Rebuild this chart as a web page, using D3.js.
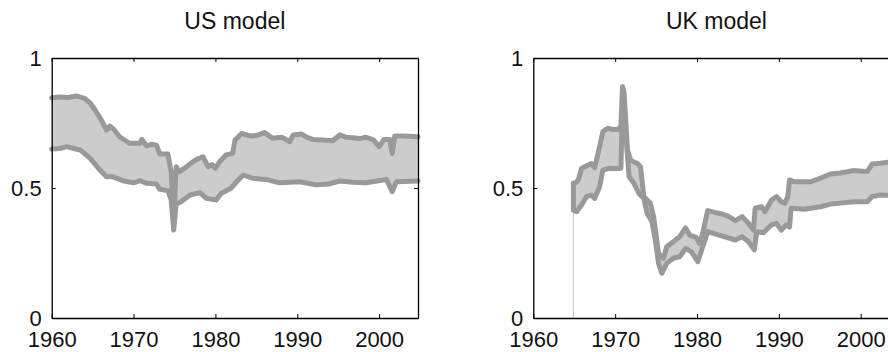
<!DOCTYPE html>
<html>
<head>
<meta charset="utf-8">
<script src="https://cdn.jsdelivr.net/npm/d3@7"></script>
<style>
  body { margin: 0; background: #fff; overflow: hidden; }
  svg { display: block; }
  text { font-family: "Liberation Sans", Arial, sans-serif; fill: #111; }
</style>
</head>
<body>
<svg id="chart" width="888" height="352"></svg>
<script>
// data: [year, value]
var usUpper = [[1960,0.847],[1961,0.85],[1962,0.848],[1963,0.854],[1964,0.845],[1964.7,0.827],[1965.3,0.80],[1965.9,0.77],
  [1966.7,0.723],[1967.1,0.738],[1967.6,0.725],[1968.3,0.697],[1969.5,0.672],[1970.3,0.672],[1970.8,0.672],[1971,0.687],
  [1971.6,0.662],[1972.2,0.668],[1972.8,0.665],[1973.2,0.631],[1974.2,0.631],[1974.6,0.56],[1974.9,0.36],[1975.2,0.582],
  [1975.6,0.563],[1976.5,0.582],[1977.2,0.60],[1977.7,0.61],[1978.5,0.62],[1979.1,0.582],[1979.6,0.59],[1980,0.576],
  [1980.5,0.601],[1981.3,0.627],[1982.1,0.633],[1982.4,0.685],[1983.2,0.71],[1984,0.702],[1984.6,0.70],[1985.3,0.705],
  [1986,0.713],[1987,0.691],[1988.1,0.695],[1989.1,0.678],[1989.5,0.704],[1990.5,0.708],[1991.2,0.695],[1991.9,0.687],
  [1993,0.685],[1994.3,0.682],[1995.2,0.704],[1996,0.695],[1996.8,0.693],[1997.6,0.69],[1998.4,0.695],[1999.3,0.685],
  [2000,0.659],[2000.6,0.687],[2001.3,0.687],[2001.6,0.633],[2001.9,0.70],[2003,0.70],[2004.75,0.697]];
var usLower = [[1960,0.65],[1961,0.652],[1961.8,0.659],[1962.7,0.652],[1963.5,0.646],[1964.7,0.614],[1965.9,0.569],
  [1966.7,0.543],[1967.5,0.543],[1968.7,0.528],[1970,0.52],[1970.8,0.528],[1971.6,0.518],[1972.8,0.515],[1973.2,0.495],
  [1974.2,0.49],[1974.6,0.454],[1974.9,0.338],[1975.2,0.438],[1975.8,0.447],[1976.9,0.473],[1978.1,0.482],[1978.9,0.46],
  [1980.1,0.454],[1980.7,0.479],[1981.9,0.499],[1982.6,0.524],[1983.4,0.55],[1984.6,0.537],[1986.2,0.533],[1987.8,0.52],
  [1990.3,0.524],[1992.3,0.512],[1993.8,0.515],[1995.2,0.527],[1996.8,0.522],[1998.4,0.52],[2000.9,0.533],[2001.6,0.486],
  [2002.1,0.524],[2004.75,0.527]];
var ukUpper = [[1964.9,0.518],[1965.2,0.52],[1965.5,0.531],[1965.9,0.576],[1966.7,0.588],[1967.1,0.594],[1967.5,0.578],
  [1968.1,0.659],[1968.5,0.717],[1969.1,0.73],[1969.7,0.725],[1970.3,0.725],[1970.7,0.736],[1970.9,0.89],[1971.1,0.864],
  [1971.5,0.646],[1971.9,0.608],[1972.3,0.60],[1972.7,0.595],[1973.1,0.582],[1973.5,0.467],[1974.3,0.441],[1974.7,0.39],
  [1975.3,0.249],[1975.9,0.23],[1976.3,0.274],[1977.1,0.293],[1977.9,0.313],[1978.6,0.347],[1979.1,0.319],[1979.9,0.31],
  [1980.3,0.287],[1980.7,0.326],[1981.3,0.413],[1982.3,0.405],[1983.1,0.40],[1983.9,0.39],[1984.7,0.374],[1985.5,0.39],
  [1986.3,0.364],[1986.9,0.338],[1987.1,0.422],[1987.9,0.428],[1988.3,0.409],[1989.1,0.454],[1989.7,0.467],[1990.3,0.447],
  [1990.7,0.441],[1991.1,0.467],[1991.3,0.531],[1991.9,0.524],[1993.9,0.524],[1995.5,0.543],[1996.3,0.554],[1997.5,0.558],
  [1999.2,0.567],[2000.8,0.563],[2001.4,0.592],[2002.4,0.595],[2003.5,0.60],[2004.75,0.602]];
var ukLower = [[1964.9,0.415],[1965.3,0.409],[1965.9,0.435],[1966.5,0.467],[1967.1,0.473],[1967.5,0.46],[1968.1,0.505],
  [1968.5,0.569],[1969.3,0.576],[1970.1,0.575],[1970.7,0.576],[1970.95,0.87],[1971.3,0.71],[1971.7,0.543],[1972.3,0.518],
  [1972.9,0.479],[1973.5,0.46],[1973.9,0.403],[1974.5,0.37],[1974.9,0.30],[1975.3,0.21],[1975.7,0.172],[1976.3,0.21],
  [1977.1,0.23],[1977.9,0.236],[1978.6,0.268],[1979.3,0.255],[1980.1,0.217],[1980.7,0.274],[1981.3,0.332],[1982.7,0.319],
  [1984.7,0.30],[1985.5,0.313],[1986.3,0.293],[1987.0,0.262],[1987.3,0.332],[1988.1,0.328],[1989.1,0.358],[1989.7,0.364],
  [1990.3,0.338],[1990.9,0.358],[1991.3,0.35],[1991.5,0.422],[1993.1,0.418],[1995.1,0.428],[1996.3,0.438],[1999.2,0.447],
  [2000.8,0.447],[2001.4,0.467],[2002.4,0.473],[2004.75,0.47]];

var titles = ["US model", "UK model"];
var xTicks = [1960, 1970, 1980, 1990, 2000];
var yTicks = [0, 0.5, 1];
var xDomain = [1960, 2004.75];

var panels = [
  {title: titles[0], upper: usUpper, lower: usLower, left: 51.7, startLine: false},
  {title: titles[1], upper: ukUpper, lower: ukLower, left: 533.3, startLine: true}
];

var svg = d3.select("#chart");
var plotW = 366.3, plotTop = 58, plotH = 260;

panels.forEach(function (p) {
  var x = d3.scaleLinear().domain(xDomain).range([p.left, p.left + plotW]);
  var y = d3.scaleLinear().domain([0, 1]).range([plotTop + plotH, plotTop]);
  var g = svg.append("g");

  var line = d3.line().x(function (d) { return x(d[0]); }).y(function (d) { return y(d[1]); });

  // band fill: upper forward then lower backwards
  var poly = p.upper.concat(p.lower.slice().reverse());
  g.append("path").attr("d", line(poly) + "Z")
    .attr("fill", "#cccccc").attr("stroke", "none");

  if (p.startLine) {
    // thin patch edge down to zero and the thick left edge of the band
    var s = p.lower[0];
    g.append("line")
      .attr("x1", x(s[0])).attr("x2", x(s[0]))
      .attr("y1", y(0)).attr("y2", y(s[1]))
      .attr("stroke", "#c4c4c4").attr("stroke-width", 1);
    g.append("path").attr("d", line([p.upper[0], p.lower[0]]))
      .attr("stroke", "#999999").attr("stroke-width", 5).attr("stroke-linecap", "round");
  }

  [p.upper, p.lower].forEach(function (ser) {
    g.append("path").attr("d", line(ser))
      .attr("fill", "none").attr("stroke", "#999999")
      .attr("stroke-width", 5).attr("stroke-linejoin", "round").attr("stroke-linecap", "round");
  });

  // axes, ticks inward like the original
  var bottom = d3.axisBottom(x).tickValues(xTicks).tickSizeInner(-4).tickSizeOuter(0).tickPadding(9)
    .tickFormat(d3.format("d"));
  var topAx = d3.axisTop(x).tickValues(xTicks).tickSizeInner(-4).tickSizeOuter(0).tickFormat("");
  var leftAx = d3.axisLeft(y).tickValues(yTicks).tickSizeInner(-4).tickSizeOuter(0).tickPadding(10)
    .tickFormat(function (d) { return d === 0.5 ? "0.5" : String(d); });
  var rightAx = d3.axisRight(y).tickValues(yTicks).tickSizeInner(-4).tickSizeOuter(0).tickFormat("");

  var gb = g.append("g").attr("transform", "translate(0," + (plotTop + plotH) + ")").call(bottom);
  gb.selectAll("text").attr("font-size", 22).attr("dy", "0.92em");
  g.append("g").attr("transform", "translate(0," + plotTop + ")").call(topAx);
  var gl = g.append("g").attr("transform", "translate(" + p.left + ",0)").call(leftAx);
  gl.selectAll("text").attr("font-size", 22).attr("dy", "0.36em");
  g.append("g").attr("transform", "translate(" + (p.left + plotW) + ",0)").call(rightAx);

  g.selectAll(".domain").attr("stroke", "#000").attr("stroke-width", 1.3);
  g.selectAll(".tick line").attr("stroke", "#000").attr("stroke-width", 1);
  g.selectAll(".tick text").attr("fill", "#111").style("font-family", "Liberation Sans, Arial, sans-serif");

  svg.append("text")
    .attr("x", p.left + plotW / 2).attr("y", 29)
    .attr("text-anchor", "middle").attr("font-size", 23)
    .text(p.title);
});
</script>
</body>
</html>
